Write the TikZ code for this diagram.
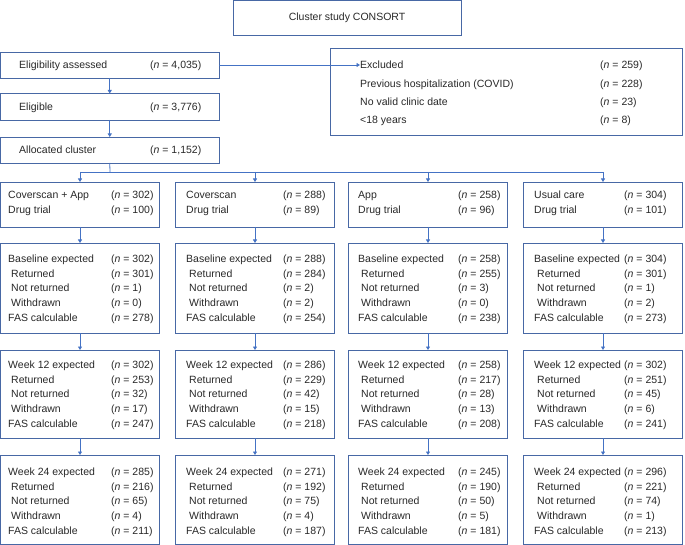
\documentclass[tikz,border=0pt]{standalone}
\usepackage{fontspec}
\setmainfont{Liberation Sans}
\usetikzlibrary{arrows.meta}
\definecolor{boxc}{RGB}{72,104,165}
\definecolor{arrc}{RGB}{68,114,196}
\definecolor{txt}{RGB}{40,40,40}
\tikzset{
  box/.style={draw=boxc, line width=0.9pt, inner sep=0pt, outer sep=0pt, anchor=north west},
  lab/.style={anchor=base west, inner sep=0pt, font=\fontsize{10.5}{12}\selectfont, text=txt},
  arr/.style={draw=arrc, line width=0.8pt, -{Triangle[width=4pt,length=3.5pt]}},
  ln/.style={draw=arrc, line width=0.8pt},
}
\newcommand\mkline[6]{%
  \node[lab] (#1l) at (#2,#4+3.7) {#5};
  \node[lab] (#1n) at (#3,#4+3.7) {(\textit{n} = #6)};
}
\newcommand\setcol[2]{\def\LX{#1}\def\NX{#2}}
\newcommand\fivebox[8]{%
  \mkline{#1-1}{\LX}{\NX}{#2}{#3}{#4}
  \mkline{#1-2}{\LX+3}{\NX}{#2+14.6}{Returned}{#5}
  \mkline{#1-3}{\LX+3}{\NX}{#2+29.2}{Not returned}{#6}
  \mkline{#1-4}{\LX+3}{\NX}{#2+43.8}{Withdrawn}{#7}
  \mkline{#1-5}{\LX}{\NX}{#2+58.4}{FAS calculable}{#8}
}
\begin{document}
\begin{tikzpicture}[x=1pt,y=-1pt]
\useasboundingbox (0,0) rectangle (685,545);

% title
\node[box, minimum width=228pt, minimum height=34.5pt] (title) at (233,0.5) {};
\node[anchor=center, inner sep=0pt, font=\fontsize{10.5}{12}\selectfont, text=txt] (titlet) at (title.center) {Cluster study CONSORT};

% eligibility chain
\node[box, minimum width=218.5pt, minimum height=26pt] (elig) at (0.5,52) {};
\mkline{eliga}{19}{150}{65}{Eligibility assessed}{4,035}
\node[box, minimum width=218.5pt, minimum height=26.5pt] (eligible) at (0.5,93.5) {};
\mkline{eligb}{19}{150}{107}{Eligible}{3,776}
\node[box, minimum width=218.5pt, minimum height=26pt] (alloc) at (0.5,137) {};
\mkline{allocl}{19}{150}{150}{Allocated cluster}{1,152}

% excluded
\node[box, minimum width=352pt, minimum height=87pt] (excl) at (330,48) {};
\mkline{exa}{360}{600}{65}{Excluded}{259}
\mkline{exb}{360}{600}{84}{Previous hospitalization (COVID)}{228}
\mkline{exc}{360}{600}{102}{No valid clinic date}{23}
\mkline{exd}{360}{600}{120}{<18 years}{8}

% column boxes
\foreach \c/\xl in {1/0.5,2/175.5,3/348.5,4/523.5}{
  \node[box, minimum width=159pt, minimum height=45pt] (c\c r1) at (\xl,182) {};
  \node[box, minimum width=159pt, minimum height=90pt] (c\c r2) at (\xl,243) {};
  \node[box, minimum width=159pt, minimum height=88pt] (c\c r3) at (\xl,350) {};
  \node[box, minimum width=159pt, minimum height=89pt] (c\c r4) at (\xl,455) {};
}

% column 1
\setcol{8}{111}
\mkline{c1a}{\LX}{\NX}{195}{Coverscan + App}{302}
\mkline{c1b}{\LX}{\NX}{210}{Drug trial}{100}
\fivebox{c1b2}{259}{Baseline expected}{302}{301}{1}{0}{278}
\fivebox{c1b3}{365}{Week 12 expected}{302}{253}{32}{17}{247}
\fivebox{c1b4}{472}{Week 24 expected}{285}{216}{65}{4}{211}

% column 2
\setcol{186}{283}
\mkline{c2a}{\LX}{\NX}{195}{Coverscan}{288}
\mkline{c2b}{\LX}{\NX}{210}{Drug trial}{89}
\fivebox{c2b2}{259}{Baseline expected}{288}{284}{2}{2}{254}
\fivebox{c2b3}{365}{Week 12 expected}{286}{229}{42}{15}{218}
\fivebox{c2b4}{472}{Week 24 expected}{271}{192}{75}{4}{187}

% column 3
\setcol{358}{458}
\mkline{c3a}{\LX}{\NX}{195}{App}{258}
\mkline{c3b}{\LX}{\NX}{210}{Drug trial}{96}
\fivebox{c3b2}{259}{Baseline expected}{258}{255}{3}{0}{238}
\fivebox{c3b3}{365}{Week 12 expected}{258}{217}{28}{13}{208}
\fivebox{c3b4}{472}{Week 24 expected}{245}{190}{50}{5}{181}

% column 4
\setcol{534}{624}
\mkline{c4a}{\LX}{\NX}{195}{Usual care}{304}
\mkline{c4b}{\LX}{\NX}{210}{Drug trial}{101}
\fivebox{c4b2}{259}{Baseline expected}{304}{301}{1}{2}{273}
\fivebox{c4b3}{365}{Week 12 expected}{302}{251}{45}{6}{241}
\fivebox{c4b4}{472}{Week 24 expected}{296}{221}{74}{1}{213}

% connectors
\draw[arr] (elig.east) -- (elig.east -| excl.west);
\draw[arr] (elig.south) -- (eligible.north);
\draw[arr] (eligible.south) -- (alloc.north);
\coordinate (br) at (110,172);
\draw[ln] (alloc.south) -- (br);
\draw[ln] (c1r1.north |- br) -- (c4r1.north |- br);
\foreach \c in {1,2,3,4}{
  \draw[arr] (c\c r1.north |- br) -- (c\c r1.north);
  \draw[arr] (c\c r1.south) -- (c\c r2.north);
  \draw[arr] (c\c r2.south) -- (c\c r3.north);
  \draw[arr] (c\c r3.south) -- (c\c r4.north);
}
\end{tikzpicture}
\end{document}
